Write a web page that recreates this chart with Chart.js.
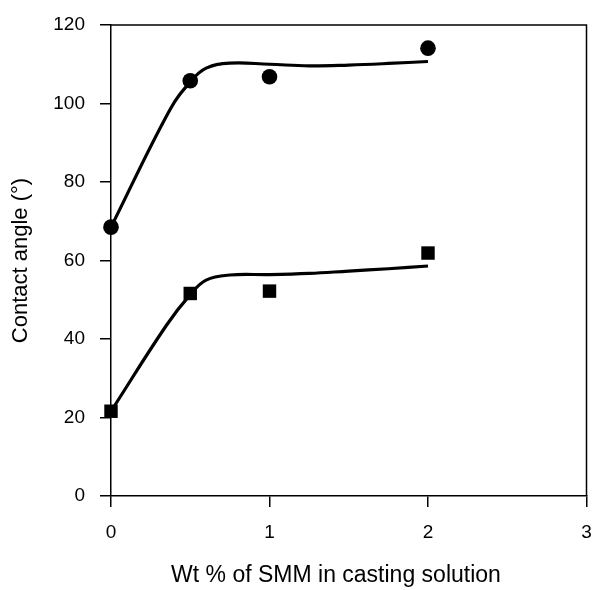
<!DOCTYPE html>
<html>
<head>
<meta charset="utf-8">
<script src="https://cdn.jsdelivr.net/npm/chart.js@4/dist/chart.umd.min.js"></script>
<style>
  body { margin: 0; background: #fff; }
  canvas { display: block; }
</style>
</head>
<body>
<canvas id="myChart" width="596" height="590"></canvas>
<script>
// measured points
const wtPercent = [0, 0.5, 1, 2];
const angleCircles = [68.5, 105.8, 106.8, 114.1];
const angleSquares = [21.6, 51.6, 52.2, 61.9];

// fitted curves
const fitUpperX = [0, 0.37, 0.5, 0.6, 0.75, 1, 1.25, 1.5, 1.75, 2];
const fitUpperY = [68.5, 98.3, 105.5, 109, 110.3, 110, 109.6, 109.8, 110.2, 110.7];
const fitLowerX = [0, 0.35, 0.5, 0.6, 0.75, 1, 1.25, 1.5, 1.75, 2];
const fitLowerY = [21.6, 43.5, 51.3, 55, 56.3, 56.4, 56.7, 57.3, 57.9, 58.6];

const xTicks = [0, 1, 2, 3];

function pairs(xs, ys) {
    return xs.map((x, i) => ({x: x, y: ys[i]}));
}

const fontFamily = '"Liberation Sans", Arial, sans-serif';

const frame = {
    id: 'frame',
    afterDatasetsDraw(chart) {
        const {ctx, chartArea} = chart;
        ctx.save();
        ctx.strokeStyle = '#000';
        ctx.lineWidth = 1.5;
        ctx.beginPath();
        ctx.moveTo(chartArea.left, chartArea.top);
        ctx.lineTo(chartArea.right, chartArea.top);
        ctx.lineTo(chartArea.right, chartArea.bottom);
        ctx.stroke();
        ctx.restore();
    }
};

const data = {
    datasets: [{
        data: pairs(fitUpperX, fitUpperY),
        showLine: true,
        borderColor: '#000',
        borderWidth: 3.2,
        pointRadius: 0,
        tension: 0.4,
        clip: false
    }, {
        data: pairs(fitLowerX, fitLowerY),
        showLine: true,
        borderColor: '#000',
        borderWidth: 3.2,
        pointRadius: 0,
        tension: 0.4,
        clip: false
    }, {
        data: pairs(wtPercent, angleCircles),
        showLine: false,
        pointStyle: 'circle',
        pointRadius: 7.8,
        backgroundColor: '#000',
        borderColor: '#000',
        borderWidth: 0,
        clip: false
    }, {
        data: pairs(wtPercent, angleSquares),
        showLine: false,
        pointStyle: 'rect',
        pointRadius: 9.5,
        backgroundColor: '#000',
        borderColor: '#000',
        borderWidth: 0,
        clip: false
    }]
};

const config = {
    type: 'scatter',
    data: data,
    plugins: [frame],
    options: {
        responsive: false,
        animation: false,
        layout: {padding: {top: 25, right: 6, left: 1, bottom: 0}},
        plugins: {legend: {display: false}, tooltip: {enabled: false}},
        scales: {
            x: {
                type: 'linear',
                min: 0,
                max: 3,
                afterBuildTicks: (scale) => { scale.ticks = xTicks.map(v => ({value: v})); },
                afterFit: (scale) => {
                    scale.height = 94;
                    scale.paddingLeft = 0;
                    scale.paddingRight = 0;
                },
                grid: {drawOnChartArea: false, tickLength: 11, color: '#000', lineWidth: 1.5},
                border: {color: '#000', width: 1.5},
                ticks: {color: '#000', padding: 14, font: {family: fontFamily, size: 19}},
                title: {
                    display: true,
                    text: 'Wt % of SMM in casting solution    ',
                    color: '#000',
                    padding: {top: 0, bottom: 1},
                    font: {family: fontFamily, size: 23}
                }
            },
            y: {
                min: 0,
                max: 120,
                ticks: {stepSize: 20, color: '#000', padding: 15, font: {family: fontFamily, size: 19}},
                afterFit: (scale) => {
                    scale.width = 110;
                    scale.paddingTop = 0;
                    scale.paddingBottom = 0;
                },
                grid: {drawOnChartArea: false, tickLength: 11, color: '#000', lineWidth: 1.5},
                border: {color: '#000', width: 1.5},
                title: {
                    display: true,
                    text: 'Contact angle (°)',
                    color: '#000',
                    padding: {top: 7, bottom: 0},
                    font: {family: fontFamily, size: 22}
                }
            }
        }
    }
};

const myChart = new Chart(document.getElementById('myChart'), config);
</script>
</body>
</html>
